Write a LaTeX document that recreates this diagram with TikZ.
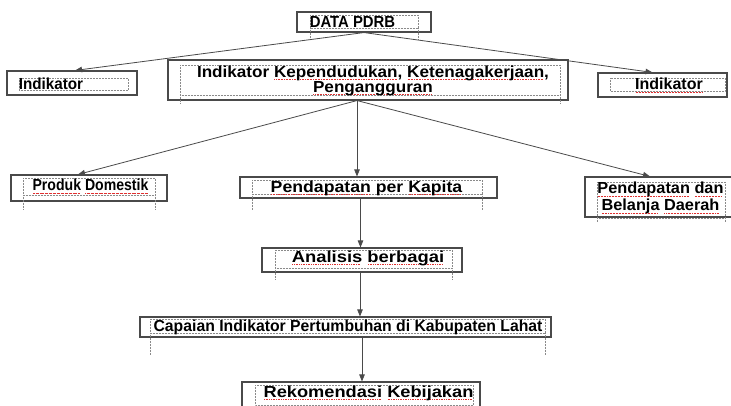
\documentclass[tikz,border=0pt]{standalone}
\usepackage{fontspec}
\setmainfont{Liberation Sans}
\usetikzlibrary{calc,arrows.meta}

\definecolor{boxgray}{HTML}{4A4A4A}
\definecolor{linegray}{HTML}{4A4A4A}
\definecolor{framegray}{HTML}{8A8A8A}
\definecolor{squig}{HTML}{E03030}

% horizontally stretched label text
\newcommand{\wtxt}[2]{\scalebox{#1}[1]{#2}}
% word with a red dotted underline
\newcommand{\sq}[1]{\setbox0\hbox{#1}\rlap{\color{squig}\raisebox{-2.8pt}{\leaders\hbox to 1.5pt{\hss\rule{0.8pt}{0.7pt}\hss}\hskip\wd0}}\box0\relax}
% dotted text frame with its side lines running on below
\newcommand{\txtframe}[5]{%
  \draw[frame] (#1,#2) rectangle (#3,#4);
  \draw[frame] (#1,#4) -- (#1,#5);
  \draw[frame] (#3,#4) -- (#3,#5);}

\tikzset{
  box/.style={draw=boxgray, line width=1.1pt, inner sep=0pt},
  frame/.style={draw=framegray, densely dotted, line width=0.5pt},
  lbl/.style={font=\bfseries\fontsize{16}{18}\selectfont, text=black, inner sep=0pt},
  arr/.style={draw=linegray, line width=0.8pt, -{Triangle[length=7pt,width=5.5pt]}}
}

\begin{document}
\begin{tikzpicture}[x=1pt,y=-1pt]
\useasboundingbox (0,0) rectangle (731,405);

% boxes
\node[box, minimum width=134pt, minimum height=20pt] (data) at (364,22) {};
\node[box, minimum width=130pt, minimum height=24pt] (indL) at (72,83) {};
\node[box, minimum width=400pt, minimum height=40pt] (big) at (368,80) {};
\node[box, minimum width=129pt, minimum height=24pt] (indR) at (662.5,85) {};
\node[box, minimum width=156pt, minimum height=26pt] (prod) at (89,188) {};
\node[box, minimum width=257pt, minimum height=21pt] (kap) at (368.5,187.5) {};
\node[box, minimum width=160pt, minimum height=40pt] (bel) at (665,197) {};
\node[box, minimum width=200pt, minimum height=24pt] (ana) at (362,260) {};
\node[box, minimum width=411pt, minimum height=20pt] (cap) at (345.5,327) {};
\node[box, minimum width=238pt, minimum height=28pt] (rek) at (361,396) {};

% dotted text frames
\txtframe{310}{15}{418}{28}{40}
\txtframe{19}{78}{128}{90}{90}
\txtframe{180}{65}{560}{95}{104}
\txtframe{610}{78}{725}{91}{91}
\txtframe{23}{178}{155}{195}{210}
\txtframe{252}{180}{482}{194}{210}
\txtframe{597}{182}{725}{218}{222}
\txtframe{275}{250}{452}{268}{280}
\txtframe{150}{319}{545}{333}{355}
\txtframe{255}{385}{473}{405}{405}

% labels
\node[lbl] (dataT) at (352.5,22) {\wtxt{0.93}{DATA PDRB}};
\node[lbl] (indLT) at (51,84) {\wtxt{0.95}{Indikator}};
\node[lbl] (bigT) at (373,81) {\wtxt{1.07}{\begin{tabular}{@{}c@{}}Indikator \sq{Kependudukan}, \sq{Ketenagakerjaan},\\[-3pt]\sq{Pengangguran}\end{tabular}}};
\node[lbl] (indRT) at (669,85) {\wtxt{1.0}{\sq{Indikator}}};
\node[lbl] (prodT) at (90.5,186) {\wtxt{0.88}{\sq{Produk} \sq{Domestik}}};
\node[lbl] (kapT) at (366.5,188) {\wtxt{1.105}{\sq{Pendapatan} per \sq{Kapita}}};
\node[lbl] (belT) at (660.5,198.5) {\wtxt{1.02}{\begin{tabular}{@{}c@{}}\sq{Pendapatan} \sq{dan}\\[-1pt]\sq{Belanja} \sq{Daerah}\end{tabular}}};
\node[lbl] (anaT) at (368,258) {\wtxt{1.15}{\sq{Analisis} \sq{berbagai}}};
\node[lbl] (capT) at (348,327) {\wtxt{0.985}{Capaian Indikator Pertumbuhan di Kabupaten Lahat}};
\node[lbl] (rekT) at (368.5,393) {\wtxt{1.14}{\sq{Rekomendasi} \sq{Kebijakan}}};

% connectors
\coordinate (dataout) at (data.south);
\draw[arr] (dataout) -- ($(indL.north)+(3,0)$);
\draw[arr] (dataout) -- ($(indR.north)+(-10,0)$);

\coordinate (bigout) at ($(big.south)+(-11,0)$);
\draw[arr] (bigout) -- ($(prod.north)+(-11,0)$);
\draw[arr] (bigout) -- (bigout |- kap.north);
\draw[arr] (bigout) -- ($(bel.north)+(-15,0)$);

\coordinate (kapout) at ($(kap.south)+(-8,0)$);
\draw[arr] (kapout) -- (kapout |- ana.north);
\coordinate (anaout) at ($(ana.south)+(-2,0)$);
\draw[arr] (anaout) -- (anaout |- cap.north);
\coordinate (capout) at ($(cap.south)+(16.5,0)$);
\draw[arr] (capout) -- (capout |- rek.north);
\end{tikzpicture}
\end{document}
